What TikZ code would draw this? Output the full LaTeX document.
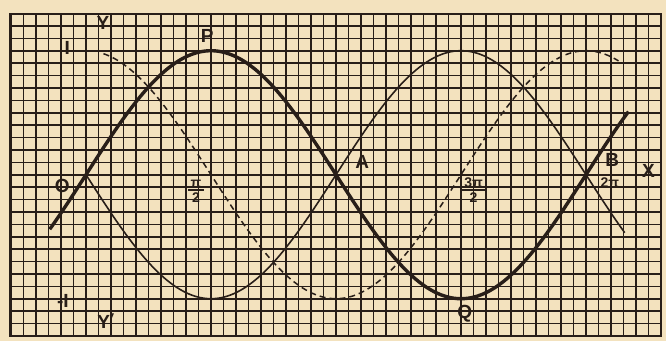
\documentclass[tikz,border=0pt]{standalone}
\usepackage{fontspec}
\setmainfont{Liberation Sans}
\definecolor{paper}{RGB}{243,226,190}
\definecolor{ink}{RGB}{40,30,24}

% fraction label under the axis
\newcommand{\axisfrac}[2]{{\setlength{\arrayrulewidth}{1.1pt}%
  \begin{tabular}{@{\,}c@{\,}}#1\\[-2pt]\hline\rule{0pt}{12pt}#2\end{tabular}}}

\begin{document}
\begin{tikzpicture}[x=12.5pt, y=12.4pt,
    lbl/.style={font=\bfseries\fontsize{19}{19}\selectfont, text=ink, inner sep=1pt},
    fraclbl/.style={font=\bfseries\fontsize{14}{14}\selectfont, text=ink, inner sep=0pt},
    gridline/.style={ink, line width=1.6pt},
    thickcurve/.style={ink, line width=3.4pt},
    thincurve/.style={ink, line width=1.6pt},
    dashcurve/.style={ink, line width=1.5pt, dash pattern=on 6pt off 4pt}]

    % Paper
    \useasboundingbox (-6.88,-13.4) rectangle (46.4,14.09);
    \fill[paper] (-6.88,-13.4) rectangle (46.4,14.09);

    % Squared grid and frame
    \draw[gridline, step=1] (-6.1,-13) grid (46,13);
    \draw[gridline, line width=2pt] (-6.1,-13) rectangle (46,13);

    % Axes
    \draw[ink, line width=2.4pt] (-6.1,0) -- (46,0);
    \draw[ink, line width=2.4pt] (0,-13) -- (0,13);

    % y = cos x (dashed)
    \draw[dashcurve, domain=1.4:42.6, samples=200] plot (\x, {10*cos(9*\x)});

    % y = -sin x (thin)
    \draw[thincurve, domain=0:43.1, samples=200] plot (\x, {-10*sin(9*\x)});

    % y = sin x (thick)
    \draw[thickcurve, domain=-2.9:43.4, samples=200] plot (\x, {10*sin(9*\x)});

    % Labels
    \node[lbl] (o) at (-1.9,-0.9) {O};
    \node[lbl] (one) at (-1.5,10.2) {I};
    \node[lbl] (mone) at (-1.85,-10.2) {-I};
    \node[lbl] (y) at (1.35,12.2) {Y};
    \node[lbl] (yy) at (1.6,-11.8) {Y$'$};
    \node[lbl] (p) at (9.7,11.2) {P};
    \node[lbl] (a) at (22.1,1.05) {A};
    \node[lbl] (q) at (30.3,-11.2) {Q};
    \node[lbl] (b) at (42.1,1.15) {B};
    \node[lbl] (x) at (45,0.3) {X};

    % Axis marks
    \node[fraclbl] (halfpi) at (8.8,-1.4) {\axisfrac{π}{2}};
    \node[fraclbl] (threehalfpi) at (31.0,-1.4) {\axisfrac{3π}{2}};
    \node[fraclbl] (twopi) at (41.9,-0.65) {2π};

\end{tikzpicture}
\end{document}
